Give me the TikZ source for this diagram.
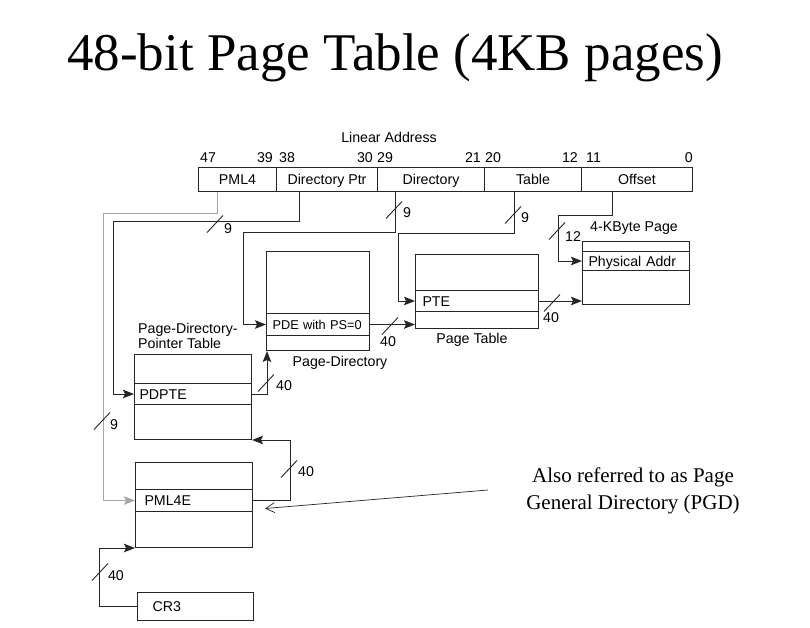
\documentclass[tikz,border=0pt]{standalone}
\usepackage{fontspec}
\setmainfont{Liberation Serif}
\newfontfamily\labfont{Liberation Sans}
\usetikzlibrary{arrows.meta,calc}
\newcommand\lab{\labfont\fontsize{14.2}{15.5}\selectfont}
\newcommand\labsm{\labfont\fontsize{12.8}{14}\selectfont}
\newcommand\titlefont{\rmfamily\fontsize{53}{60}\selectfont}
\newcommand\notefont{\rmfamily\fontsize{21}{27}\selectfont}
\newcommand\busmark[2]{\draw[slashline] (#1,#2) ++(-8,8.5) -- ++(16,-17);}
\colorlet{lc}{black!85}
\begin{document}
\begin{tikzpicture}[x=1pt,y=-1pt,
  every node/.style={text=black},
  field/.style={draw=lc, line width=1pt, minimum height=24pt, inner sep=0pt, text height=10.4pt, text depth=0pt, anchor=west, font=\lab},
  tbl/.style={draw=lc, line width=1pt, inner sep=0pt, anchor=north west},
  entry/.style={draw=lc, line width=1pt, anchor=north west, inner ysep=0pt, inner xsep=6pt, text height=10.2pt, text depth=0pt, align=left, font=\lab},
  conn/.style={draw=lc, line width=1pt, -{Stealth[length=11pt,width=8.5pt,inset=2pt]}},
  slashline/.style={draw=lc, line width=0.9pt},
  buslab/.style={font=\lab, inner sep=0pt},
  caption/.style={font=\lab, inner sep=0pt},
  bitlab/.style={font=\lab, inner sep=0pt}]
\useasboundingbox (0,0) rectangle (810,627);
\fill[white] (0,0) rectangle (810,627);

% title
\node[font=\titlefont, anchor=base, inner sep=0pt] (title) at (395,70) {48-bit Page Table (4KB pages)};

% linear address
\node[caption] (lin) at (389,137) {Linear Address};
\node[bitlab, anchor=base west] (b47) at (200,162) {47};
\node[bitlab, anchor=base east] (b39) at (273,162) {39};
\node[bitlab, anchor=base west] (b38) at (279,162) {38};
\node[bitlab, anchor=base east] (b30) at (373,162) {30};
\node[bitlab, anchor=base west] (b29) at (377,162) {29};
\node[bitlab, anchor=base east] (b21) at (481,162) {21};
\node[bitlab, anchor=base west] (b20) at (485,162) {20};
\node[bitlab, anchor=base east] (b12) at (578,162) {12};
\node[bitlab, anchor=base west] (b11) at (586,162) {11};
\node[bitlab, anchor=base east] (b0) at (693,162) {0};

\node[field, minimum width=78pt] (pml4f) at (198,179) {PML4};
\node[field, minimum width=101pt] (dirptrf) at (276,179) {Directory Ptr};
\node[field, minimum width=107pt] (dirf) at (377,179) {Directory};
\node[field, minimum width=97pt] (tablef) at (484,179) {Table};
\node[field, minimum width=111pt] (offf) at (581,179) {Offset};

% 4-KByte page
\node[tbl, minimum width=107pt, minimum height=63pt] (pg) at (582,241) {};
\node[entry, text width=95pt, minimum height=19pt] (phys) at (582,251) {Physical Addr};
\node[caption] (pgcap) at (634,228) {4-KByte Page};

% page table
\node[tbl, minimum width=123pt, minimum height=74pt] (pt) at (415,254) {};
\node[entry, text width=109pt, minimum height=21pt, inner xsep=7pt] (pte) at (415,290) {PTE};
\node[caption] (ptcap) at (472,340) {Page Table};

% page directory
\node[tbl, minimum width=103pt, minimum height=99pt] (pd) at (266,251) {};
\node[entry, text width=91pt, minimum height=22pt, text height=9.2pt, font=\labsm] (pde) at (266,313) {PDE with PS=0};
\node[caption] (pdcap) at (340,363) {Page-Directory};

% page directory pointer table
\node[tbl, minimum width=117pt, minimum height=85pt] (pdpt) at (134,354) {};
\node[entry, text width=107pt, minimum height=21pt, inner xsep=5pt] (pdpte) at (134,383) {PDPTE};
\node[caption, anchor=west, align=left] (pdptcap) at (138,336) {Page-Directory-\\Pointer Table};

% PML4 table
\node[tbl, minimum width=117pt, minimum height=85pt] (pml4t) at (135,462) {};
\node[entry, text width=99pt, minimum height=22pt, inner xsep=9pt] (pml4e) at (135,489) {PML4E};

% CR3
\node[entry, text width=86pt, minimum height=28pt, inner xsep=15pt] (cr3) at (137,592) {CR3};

% connectors from linear address
\draw[conn, draw=black!35] ([xshift=-20pt]pml4f.south) |- (103,213) |- (pml4e.west);
\draw[conn] ([xshift=-27.5pt]dirptrf.south) |- (113,221) |- (pdpte.west);
\draw[conn] ([xshift=-35.5pt]dirf.south) |- (243,232) |- (pde.west);
\draw[conn] ([xshift=-18.5pt]tablef.south) |- (398,233) |- (pte.west);
\draw[conn] ([xshift=-24.5pt]offf.south) |- (558,215) |- (phys.west);

% table-to-table connectors
\draw[conn] (pte.east) -- (pte.east -| pg.west);
\draw[conn] (pde.east) -- (pde.east -| pt.west);
\draw[conn] (pdpte.east) -| ([xshift=1pt]pd.south west);
\draw[conn] (pml4e.east) -- ++(37,0) |- (pdpt.south east);
\draw[conn] (cr3.west) -- ++(-38,0) |- (pml4t.south west);

% bus width marks
\busmark{215}{224}
\busmark{102}{421}
\busmark{394}{210}
\busmark{513}{215}
\busmark{557}{231}
\busmark{552}{303}
\busmark{390}{326}
\busmark{266}{383}
\busmark{289}{469}
\busmark{100}{572}

\node[buslab] (w1) at (228,229) {9};
\node[buslab] (w2) at (114,425) {9};
\node[buslab] (w3) at (407,213) {9};
\node[buslab] (w4) at (525,218) {9};
\node[buslab] (w5) at (573,237) {12};
\node[buslab] (w6) at (551,318) {40};
\node[buslab] (w7) at (388,342) {40};
\node[buslab] (w8) at (284,386) {40};
\node[buslab] (w9) at (306,472) {40};
\node[buslab] (w10) at (116,576) {40};

% annotation
\node[font=\notefont, align=center, inner sep=0pt] (note) at (633,491) {Also referred to as Page\\General Directory (PGD)};
\draw[line width=0.7pt, draw=black!85, -{Straight Barb[length=9pt,width=10pt]}] ([xshift=-38pt,yshift=1pt]note.west) -- ([xshift=12pt,yshift=-8pt]pml4e.east);
\end{tikzpicture}
\end{document}
